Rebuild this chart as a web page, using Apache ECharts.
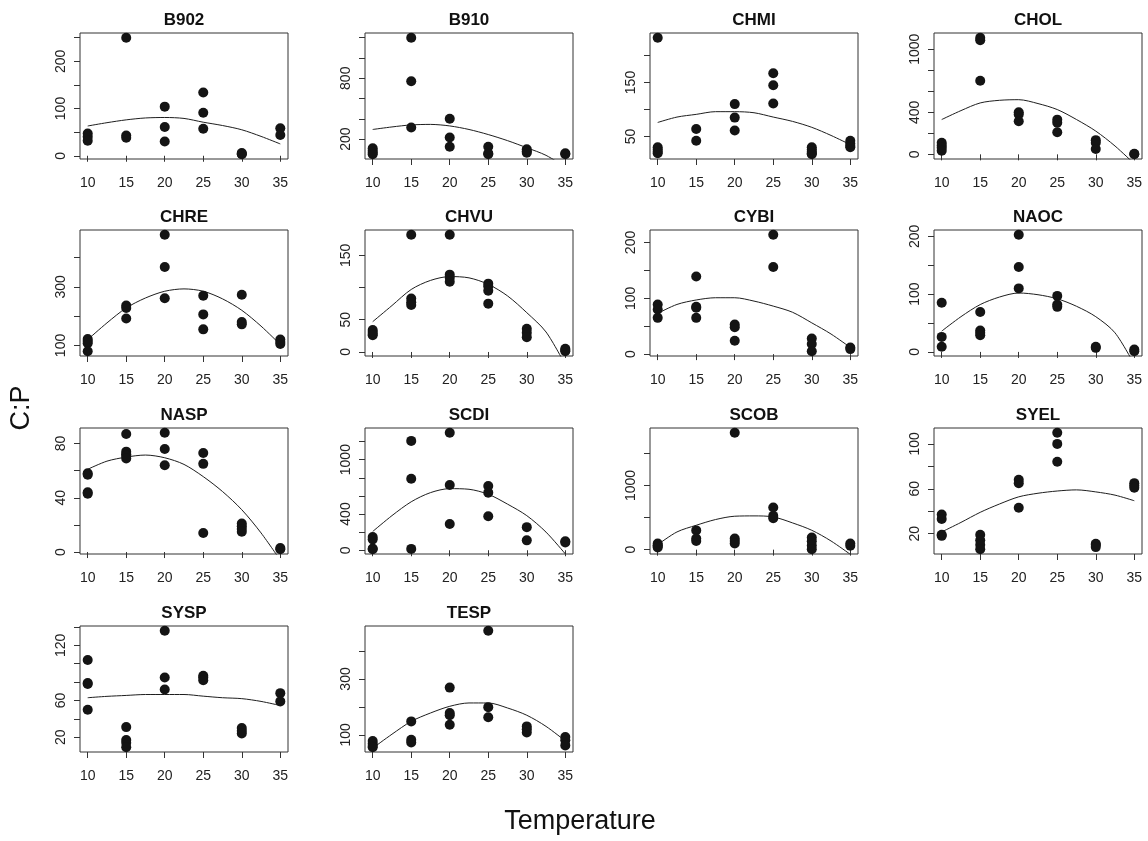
<!DOCTYPE html>
<html>
<head>
<meta charset="utf-8">
<title>C:P vs Temperature</title>
<script src="https://cdn.jsdelivr.net/npm/echarts@6/dist/echarts.min.js"></script>
<style>
  html, body { margin: 0; padding: 0; background: #fff; }
  #chart { width: 1148px; height: 841px; }
</style>
</head>
<body>
<div id="chart"></div>
<script>
// Temperatures at which C:P was measured, and x-axis ticks
const temperatures = [10, 15, 20, 25, 30, 35];
const xTicks = [10, 15, 20, 25, 30, 35];
// Temperatures at which the fitted quadratic curve is drawn
const fitTemperatures = [10, 12.5, 15, 17.5, 20, 22.5, 25, 27.5, 30, 32.5, 35];

const panelNames = ['B902', 'B910', 'CHMI', 'CHOL', 'CHRE', 'CHVU', 'CYBI',
                    'NAOC', 'NASP', 'SCDI', 'SCOB', 'SYEL', 'SYSP', 'TESP'];

// Observed C:P, one list per temperature (10 ... 35)
const B902_obs = [[47, 40, 32], [250, 43, 38], [104, 61, 30], [134, 91, 57], [6, 4, 3], [58, 44]];
const B910_obs = [[110, 85, 65, 50], [1200, 770, 315], [400, 216, 125], [125, 60, 50], [100, 80, 65], [60, 50]];
const CHMI_obs = [[233, 30, 26, 22, 19], [64, 42], [110, 85, 61], [167, 145, 111], [30, 26, 22, 19, 17], [42, 37, 33, 30]];
const CHOL_obs = [[110, 85, 63, 35], [1110, 1085, 700], [400, 380, 315], [330, 300, 210], [135, 110, 50], [5, 0]];
const CHRE_obs = [[122, 115, 108, 80], [236, 228, 192], [478, 368, 261], [270, 206, 155], [273, 180, 172], [120, 112, 105]];
const CHVU_obs = [[34, 31, 28, 26], [182, 83, 77, 73], [182, 120, 115, 109], [106, 102, 95, 75], [36, 30, 23], [5, 3, 1]];
const CYBI_obs = [[89, 80, 65], [139, 85, 83, 65], [53, 48, 24], [214, 156], [28, 18, 5], [12, 9]];
const NAOC_obs = [[85, 26, 9], [69, 37, 33, 29], [203, 147, 110], [97, 82, 78], [9, 7], [4, 1]];
const NASP_obs = [[58, 57, 44, 43], [87, 74, 72, 71, 69], [88, 76, 64], [73, 65, 14], [21, 19, 17, 15], [3, 2]];
const SCDI_obs = [[145, 120, 20, 10], [1207, 790, 15], [1298, 720, 290], [710, 636, 375], [255, 109], [98, 85]];
const SCOB_obs = [[95, 70, 55, 35], [300, 175, 135], [1823, 172, 135, 95], [656, 526, 490], [190, 130, 65, 5], [95, 60]];
const SYEL_obs = [[37, 33, 19, 18], [19, 14, 10, 6], [68, 65, 43], [110, 100, 84], [11, 10, 8], [65, 63, 61]];
const SYSP_obs = [[104, 79, 78, 50], [31, 17, 14, 9], [136, 85, 72], [87, 85, 82], [30, 27, 24], [68, 59]];
const TESP_obs = [[78, 68, 60, 55], [148, 82, 72], [269, 178, 170, 136], [473, 199, 163], [130, 120, 108], [92, 80, 62]];

// Fitted curve values at fitTemperatures
const B902_fit = [63, 70, 76, 80, 81, 79, 71, 64, 55, 41, 25];
const B910_fit = [295, 320, 340, 345, 330, 295, 245, 185, 115, 40, -75];
const CHMI_fit = [76, 86, 91, 96, 96, 94, 86, 78, 67, 52, 35];
const CHOL_fit = [331, 416, 489, 514, 520, 483, 426, 331, 221, 79, -90];
const CHRE_fit = [120, 177, 228, 262, 285, 293, 285, 259, 220, 166, 103];
const CHVU_fit = [47, 72, 97, 111, 117, 115, 105, 87, 61, 31, -20];
const CYBI_fit = [73, 89, 97, 101, 101, 95, 86, 75, 56, 36, 12];
const NAOC_fit = [36, 61, 82, 95, 102, 99, 92, 79, 61, 33, -22];
const NASP_fit = [61, 67, 70, 71.5, 69.5, 64.6, 55.6, 44.6, 31.2, 14.1, -6];
const SCDI_fit = [207, 382, 535, 636, 680, 673, 618, 509, 382, 200, -40];
const SCOB_fit = [78, 276, 380, 469, 521, 526, 510, 417, 302, 135, -73];
const SYEL_fit = [21.5, 30, 39, 46.4, 52.8, 56, 58, 59, 57.2, 54.3, 49.3];
const SYSP_fit = [63, 64.5, 65.5, 66.5, 66.5, 66.5, 64.7, 63, 62, 59, 54.5];
const TESP_fit = [52, 102, 148, 178, 202, 214, 214, 196, 170, 130, 78];

// y-axis tick positions and the ticks that carry a label
const B902_yTicks = [0, 50, 100, 150, 200, 250];        const B902_yLabels = [0, 100, 200];
const B910_yTicks = [200, 400, 600, 800, 1000, 1200];   const B910_yLabels = [200, 800];
const CHMI_yTicks = [50, 100, 150, 200];                const CHMI_yLabels = [50, 150];
const CHOL_yTicks = [0, 200, 400, 600, 800, 1000];      const CHOL_yLabels = [0, 400, 1000];
const CHRE_yTicks = [100, 200, 300, 400];               const CHRE_yLabels = [100, 300];
const CHVU_yTicks = [0, 50, 100, 150];                  const CHVU_yLabels = [0, 50, 150];
const CYBI_yTicks = [0, 50, 100, 150, 200];             const CYBI_yLabels = [0, 100, 200];
const NAOC_yTicks = [0, 50, 100, 150, 200];             const NAOC_yLabels = [0, 100, 200];
const NASP_yTicks = [0, 20, 40, 60, 80];                const NASP_yLabels = [0, 40, 80];
const SCDI_yTicks = [0, 200, 400, 600, 800, 1000, 1200]; const SCDI_yLabels = [0, 400, 1000];
const SCOB_yTicks = [0, 500, 1000, 1500];               const SCOB_yLabels = [0, 1000];
const SYEL_yTicks = [20, 40, 60, 80, 100];              const SYEL_yLabels = [20, 60, 100];
const SYSP_yTicks = [20, 40, 60, 80, 100, 120, 140];    const SYSP_yLabels = [20, 60, 120];
const TESP_yTicks = [100, 200, 300, 400];               const TESP_yLabels = [100, 300];

const panelData = [
  [B902_obs, B902_fit, B902_yTicks, B902_yLabels],
  [B910_obs, B910_fit, B910_yTicks, B910_yLabels],
  [CHMI_obs, CHMI_fit, CHMI_yTicks, CHMI_yLabels],
  [CHOL_obs, CHOL_fit, CHOL_yTicks, CHOL_yLabels],
  [CHRE_obs, CHRE_fit, CHRE_yTicks, CHRE_yLabels],
  [CHVU_obs, CHVU_fit, CHVU_yTicks, CHVU_yLabels],
  [CYBI_obs, CYBI_fit, CYBI_yTicks, CYBI_yLabels],
  [NAOC_obs, NAOC_fit, NAOC_yTicks, NAOC_yLabels],
  [NASP_obs, NASP_fit, NASP_yTicks, NASP_yLabels],
  [SCDI_obs, SCDI_fit, SCDI_yTicks, SCDI_yLabels],
  [SCOB_obs, SCOB_fit, SCOB_yTicks, SCOB_yLabels],
  [SYEL_obs, SYEL_fit, SYEL_yTicks, SYEL_yLabels],
  [SYSP_obs, SYSP_fit, SYSP_yTicks, SYSP_yLabels],
  [TESP_obs, TESP_fit, TESP_yTicks, TESP_yLabels]
];

// Layout of the 4 x 4 panel grid
const colLeft = [80, 365, 650, 934];
const rowTop = [33, 230, 428, 626];
const boxW = 208, boxH = 126;
const FONT = '"Liberation Sans", Arial, Helvetica, sans-serif';
const INK = '#141414';
const plain = v => String(v);

const grids = [], xAxes = [], yAxes = [], series = [], graphics = [];

panelNames.forEach((name, i) => {
  const [obs, fit, yTicks, yLabels] = panelData[i];
  const row = Math.floor(i / 4), col = i % 4;
  const left = colLeft[col], top = rowTop[row];

  // y range: data extent padded by 4% on each side
  const all = obs.flat();
  const lo = Math.min(...all), hi = Math.max(...all);
  const pad = (hi - lo) * 0.04;

  grids.push({
    left, top, width: boxW, height: boxH,
    show: true, borderColor: '#333', borderWidth: 1, backgroundColor: 'transparent',
    outerBoundsMode: 'none', containLabel: false
  });

  xAxes.push({
    gridIndex: i, type: 'value', min: 9, max: 36,
    axisLine: { show: false },
    splitLine: { show: false },
    axisTick: { show: true, inside: false, length: 6, customValues: xTicks,
                lineStyle: { color: '#333', width: 1 } },
    axisLabel: { show: true, customValues: xTicks, margin: 17, fontSize: 14,
                 color: '#222', fontFamily: FONT, formatter: plain }
  });

  yAxes.push({
    gridIndex: i, type: 'value', min: lo - pad, max: hi + pad,
    axisLine: { show: false },
    splitLine: { show: false },
    axisTick: { show: true, inside: false, length: 6, customValues: yTicks,
                lineStyle: { color: '#333', width: 1 } },
    axisLabel: { show: true, customValues: yLabels, rotate: 90, margin: 12,
                 fontSize: 14, color: '#222', fontFamily: FONT, formatter: plain }
  });

  const points = [];
  temperatures.forEach((t, k) => obs[k].forEach(v => points.push([t, v])));

  series.push({
    type: 'scatter', xAxisIndex: i, yAxisIndex: i, data: points,
    symbol: 'circle', symbolSize: 10, silent: true,
    itemStyle: { color: INK, opacity: 1 },
    emphasis: { disabled: true }, clip: true, z: 3
  });

  series.push({
    type: 'line', xAxisIndex: i, yAxisIndex: i,
    data: fitTemperatures.map((t, k) => [t, fit[k]]),
    showSymbol: false, symbol: 'none', smooth: 0.3, silent: true, clip: true,
    lineStyle: { color: '#1e1e1e', width: 1 },
    emphasis: { disabled: true }, z: 2
  });

  graphics.push({
    type: 'text', x: left + boxW / 2, y: top - 13, silent: true,
    style: { text: name, font: 'bold 17px ' + FONT, fill: '#111',
             textAlign: 'center', textVerticalAlign: 'middle',
             align: 'center', verticalAlign: 'middle' }
  });
});

// Shared axis titles
graphics.push({
  type: 'text', x: 580, y: 822, silent: true,
  style: { text: 'Temperature', font: '27px ' + FONT, fill: '#111',
           textAlign: 'center', textVerticalAlign: 'middle',
           align: 'center', verticalAlign: 'middle' }
});
graphics.push({
  type: 'text', x: 22, y: 408, rotation: Math.PI / 2, silent: true,
  style: { text: 'C:P', font: '27px ' + FONT, fill: '#111',
           textAlign: 'center', textVerticalAlign: 'middle',
           align: 'center', verticalAlign: 'middle' }
});

const chart = echarts.init(document.getElementById('chart'), null, { renderer: 'canvas' });
chart.setOption({
  animation: false,
  backgroundColor: '#ffffff',
  grid: grids,
  xAxis: xAxes,
  yAxis: yAxes,
  series: series,
  graphic: graphics
});
</script>
</body>
</html>
